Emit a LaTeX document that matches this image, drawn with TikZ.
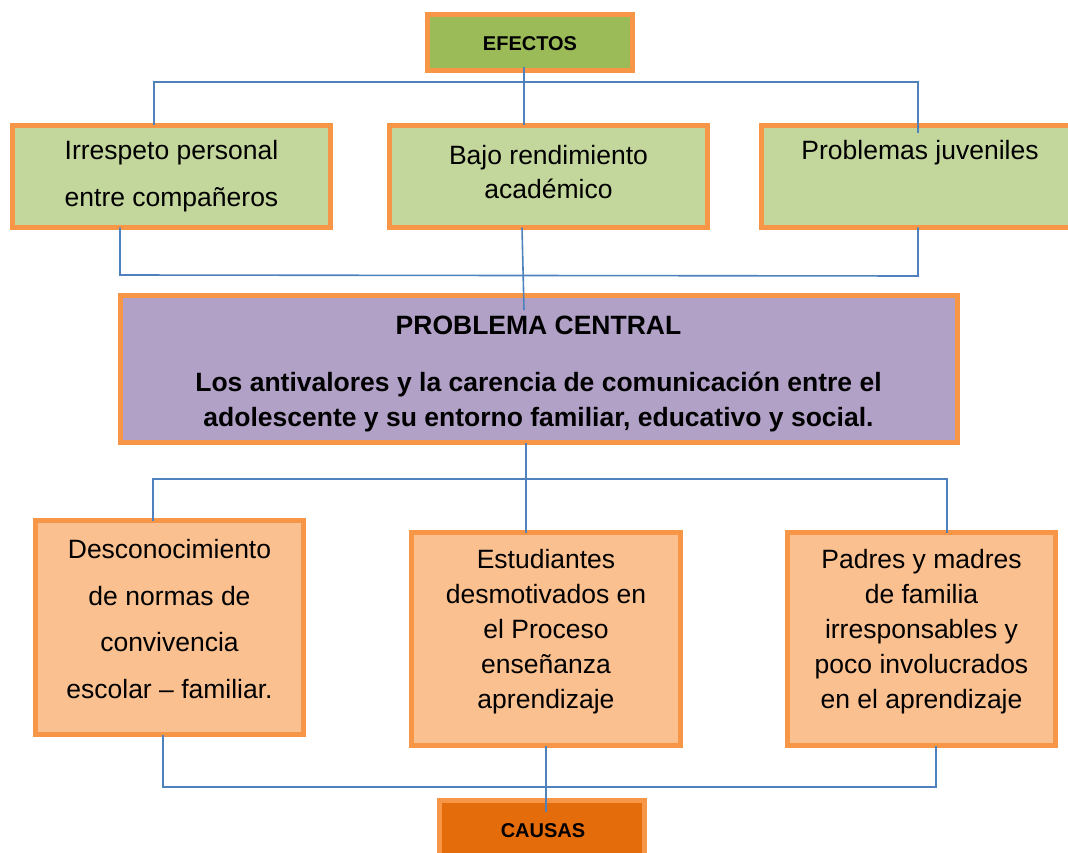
\documentclass[tikz,border=0pt]{standalone}
\usepackage{fontspec}
\setmainfont{Liberation Sans}
\definecolor{bord}{HTML}{F79646}
\definecolor{linec}{HTML}{4F81BD}
\definecolor{greenA}{HTML}{9BBB59}
\definecolor{greenB}{HTML}{C3D69B}
\definecolor{purp}{HTML}{B2A1C7}
\definecolor{peach}{HTML}{FAC090}
\definecolor{darkor}{HTML}{E46C0A}
\tikzset{
  box/.style={draw=bord, line width=5pt, inner sep=0pt, outer sep=0pt},
  txt/.style={align=center, inner sep=0pt, text=black},
  conn/.style={draw=linec, line width=1.6pt},
}
\begin{document}
\begin{tikzpicture}[x=1pt,y=-1pt]
\useasboundingbox (0,0) rectangle (1068,853);
\clip (0,0) rectangle (1068,853);
% boxes (node size = outer size - line width)
\node[box, fill=greenA, minimum width=205pt, minimum height=56pt] (efectos) at (530,42.5) {};
\node[box, fill=greenB, minimum width=318pt, minimum height=102pt] (e1) at (171.5,176.5) {};
\node[box, fill=greenB, minimum width=318pt, minimum height=102pt] (e2) at (548.5,176.5) {};
\node[box, fill=greenB, minimum width=318pt, minimum height=102pt] (e3) at (920.5,176.5) {};
\node[box, fill=purp, minimum width=837pt, minimum height=147pt] (central) at (539,369) {};
\node[box, fill=peach, minimum width=268pt, minimum height=214pt] (c1) at (169.5,627.5) {};
\node[box, fill=peach, minimum width=269pt, minimum height=213pt] (c2) at (546,639) {};
\node[box, fill=peach, minimum width=268pt, minimum height=213pt] (c3) at (921.5,639) {};
\node[box, fill=darkor, minimum width=205pt, minimum height=56pt] (causas) at (542,828.5) {};
% texts
\node[txt, font=\fontsize{20}{24}\selectfont\bfseries] (tefe) at (530,44) {EFECTOS};
\node[txt, font=\fontsize{20}{24}\selectfont\bfseries] (tcau) at (543,831) {CAUSAS};
\node[txt, font=\fontsize{26.5}{47}\selectfont] (te1) at (171.5,176.5) {Irrespeto personal\\entre compañeros};
\node[txt, font=\fontsize{26.5}{34}\selectfont] (te2) at (548.5,172) {Bajo rendimiento\\académico};
\node[txt, font=\fontsize{26.5}{34}\selectfont] (te3) at (920,153) {Problemas juveniles};
\node[txt, font=\fontsize{26.5}{34}\selectfont\bfseries] (tpc) at (538.5,325) {PROBLEMA CENTRAL};
\node[txt, font=\fontsize{26.5}{35}\selectfont\bfseries] (tpc2) at (538.5,402.5) {Los antivalores y la carencia de comunicación entre el\\adolescente y su entorno familiar, educativo y social.};
\node[txt, font=\fontsize{26.5}{46.7}\selectfont] (tc1) at (169.5,619) {Desconocimiento\\de normas de\\convivencia\\escolar – familiar.};
\node[txt, font=\fontsize{26.5}{35}\selectfont] (tc2) at (546,632) {Estudiantes\\desmotivados en\\el Proceso\\enseñanza\\aprendizaje};
\node[txt, font=\fontsize{26.5}{35}\selectfont] (tc3) at (921.5,632) {Padres y madres\\de familia\\irresponsables y\\poco involucrados\\en el aprendizaje};
% bus coordinates
\coordinate (t1) at (154,82);
\coordinate (t2) at (524,82);
\coordinate (t3) at (918,82);
\coordinate (u1) at (120,275);
\coordinate (u3) at (918,276);
\coordinate (ua) at (522,0);
\coordinate (ub) at (524,310);
\coordinate (v1) at (153,479);
\coordinate (v2) at (526,479);
\coordinate (v3) at (947,479);
\coordinate (w1) at (163,787);
\coordinate (w3) at (936,787);
\coordinate (wb) at (546,812);
% connectors
\draw[conn] (t1 |- e1.north) -- (t1) -- (t3) -- ([yshift=-8pt]t3 |- e3.north);
\draw[conn] ([yshift=3pt]t2 |- efectos.south) -- (t2 |- e2.north);
\draw[conn] (u1 |- e1.south) -- (u1) -- (u3) -- (u3 |- e3.south);
\draw[conn] (ua |- e2.south) -- (ub);
\draw[conn] (v2 |- central.south) -- (v2 |- c2.north);
\draw[conn] (v1 |- c1.north) -- (v1) -- (v3) -- (v3 |- c3.north);
\draw[conn] (w1 |- c1.south) -- (w1) -- (w3) -- (w3 |- c3.south);
\draw[conn] (wb |- c2.south) -- (wb);
\end{tikzpicture}
\end{document}
